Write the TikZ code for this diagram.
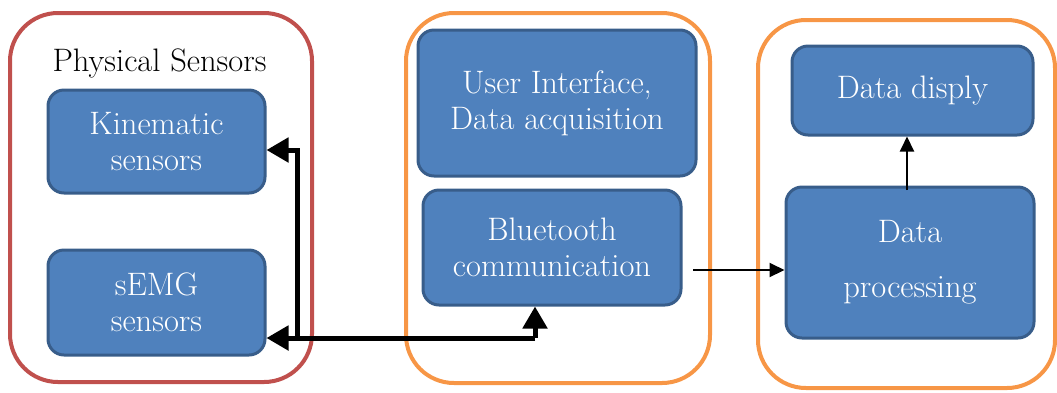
\documentclass[tikz,border=0pt]{standalone}
\usetikzlibrary{arrows.meta}
\definecolor{boxfill}{HTML}{4F81BD}
\definecolor{boxedge}{HTML}{385D8A}
\definecolor{redframe}{HTML}{C0504D}
\definecolor{orangeframe}{HTML}{F79646}
\begin{document}
\begin{tikzpicture}[x=1pt,y=-1pt,
  frame/.style={draw, line width=4pt, rounded corners=48pt, inner sep=0},
  bluebox/.style={draw=boxedge, fill=boxfill, line width=3pt, rounded corners=16pt,
    text=white, align=center, inner sep=0, font=\fontsize{32.5}{36}\selectfont},
  bigarrow/.style={line width=5pt, -{Triangle[length=22pt,width=24pt]}},
  thinarrow/.style={line width=2pt, -{Triangle[length=15pt,width=14pt]}}]
\useasboundingbox (0,0) rectangle (1057,392);
% frames
\node[frame, draw=redframe, minimum width=302pt, minimum height=369pt] (fr1) at (161,197.5) {};
\node[frame, draw=orangeframe, minimum width=304pt, minimum height=370pt] (fr2) at (558,198) {};
\node[frame, draw=orangeframe, minimum width=297pt, minimum height=368pt] (fr3) at (906.5,204) {};
% title
\node[font=\fontsize{32.5}{36}\selectfont, anchor=base] (title) at (159.5,71) {Physical Sensors};
% blue boxes
\node[bluebox, minimum width=217pt, minimum height=103pt] (kin) at (156.5,141.5) {Kinematic\\sensors};
\node[bluebox, minimum width=217pt, minimum height=105pt] (semg) at (156.5,302.5) {sEMG\\sensors};
\node[bluebox, minimum width=278pt, minimum height=146pt] (ui) at (557,103) {User Interface,\\Data acquisition};
\node[bluebox, minimum width=258pt, minimum height=115pt] (bt) at (552,247.5) {Bluetooth\\communication};
\node[bluebox, minimum width=241pt, minimum height=89pt] (dd) at (912.5,90.5) {Data disply};
\node[bluebox, minimum width=248pt, minimum height=151pt, font=\fontsize{32.5}{55}\selectfont] (dp) at (910,262.5) {Data\\processing};
% connectors
\coordinate (c1) at (535,338);
\coordinate (j1) at (297,338);
\coordinate (j2) at (297,150);
\coordinate (c3) at (693,270);
\coordinate (c4) at (907,190);
\draw[bigarrow] (c1) -- (semg.east |- c1);
\draw[bigarrow] (c1) -- (c1 |- bt.south);
\draw[bigarrow] (j1) -- (j2) -- (kin.east |- j2);
\draw[thinarrow] (c3) -- (dp.west |- c3);
\draw[thinarrow] (c4) -- (c4 |- dd.south);
\end{tikzpicture}
\end{document}
